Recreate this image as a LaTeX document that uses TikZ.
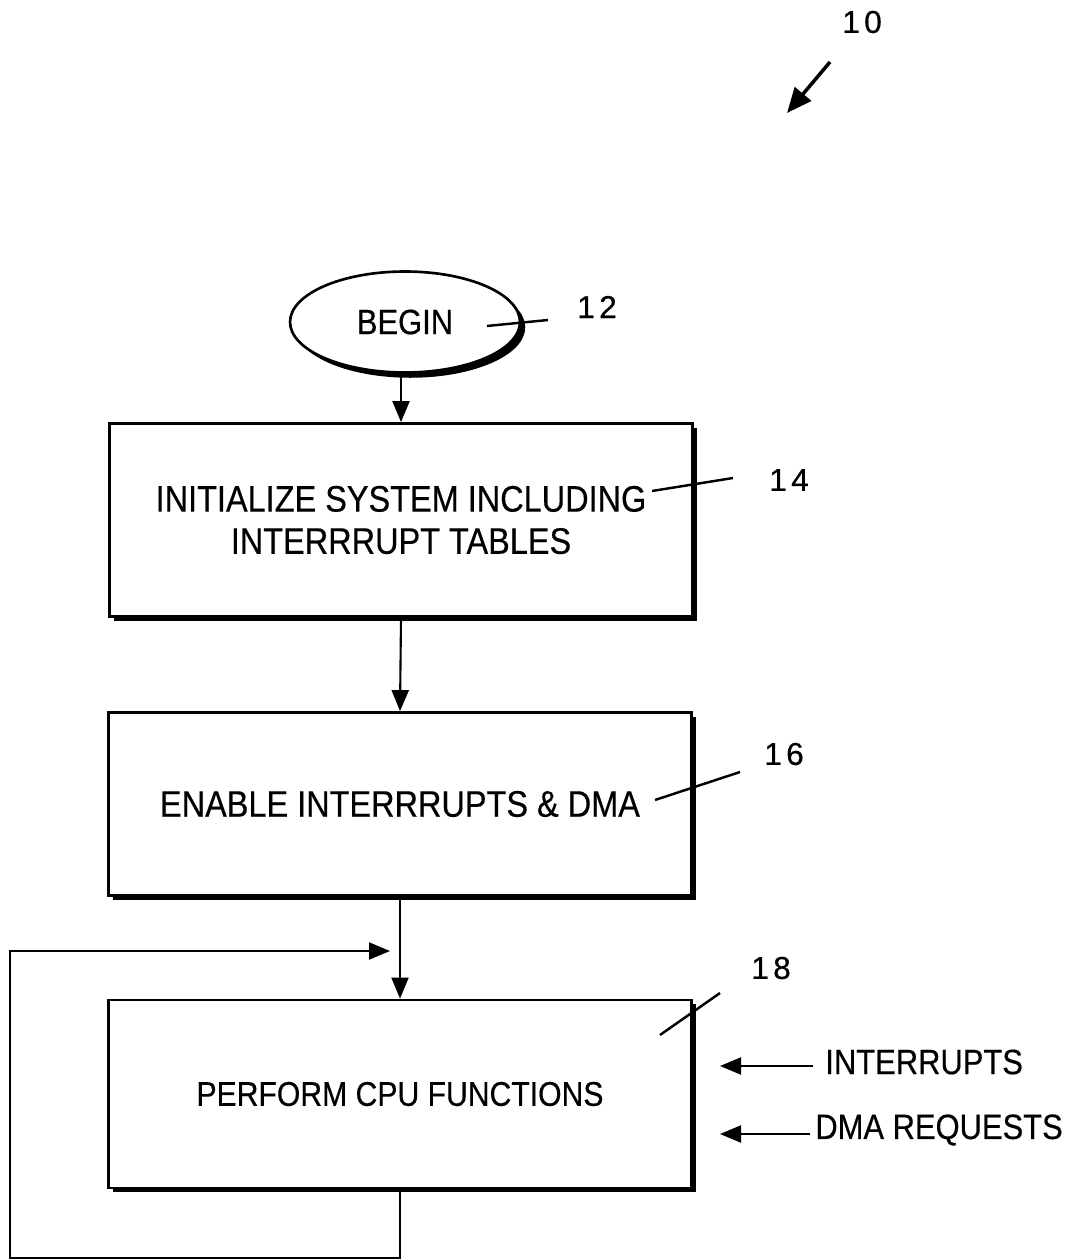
\documentclass[tikz,border=0pt]{standalone}
\usepackage{fontspec}
\setmainfont[FakeStretch=0.88,FakeBold=0.4]{Liberation Sans}
\newfontfamily\numfont[LetterSpace=14,FakeBold=0.5]{Liberation Sans}
\usetikzlibrary{arrows.meta,shadows,shapes.geometric}

\tikzset{
	stepbox/.style={draw,line width=1.6pt,fill=white,align=center,
		minimum width=11.66cm,
		drop shadow={shadow xshift=2.5pt,shadow yshift=-2.5pt,fill=black,opacity=1},
		font=\fontsize{21}{24}\selectfont},
	startoval/.style={ellipse,draw,line width=1.5pt,fill=white,
		minimum width=4.6cm,minimum height=2.02cm,inner sep=0pt,
		drop shadow={shadow xshift=3pt,shadow yshift=-3pt,fill=black,opacity=1},
		font=\fontsize{20}{24}\selectfont},
	flow/.style={line width=1.2pt,-{Triangle[length=0.42cm,width=0.34cm]}},
	leader/.style={line width=1.4pt},
	refnum/.style={font=\numfont\fontsize{18}{20}\selectfont},
	inlabel/.style={font=\fontsize{20}{22}\selectfont,anchor=west,inner sep=0pt}
}

\begin{document}
\begin{tikzpicture}[x=0.02cm,y=-0.02cm]
	\useasboundingbox (0,0) rectangle (1071,1260);

	% flow chart steps
	\node[startoval] (begin) at (405,322) {BEGIN};
	\node[stepbox,minimum height=3.86cm] (init) at (401,520)
		{INITIALIZE SYSTEM INCLUDING\\INTERRRUPT TABLES};
	\node[stepbox,minimum height=3.66cm] (enable) at (400,804)
		{ENABLE INTERRRUPTS \& DMA};
	\node[stepbox,minimum height=3.76cm,font=\fontsize{19.5}{24}\selectfont] (cpu) at (400,1094)
		{PERFORM CPU FUNCTIONS};

	% reference numerals
	\node[refnum] (r10) at (862,22) {10};
	\node[refnum] (r12) at (597,307) {12};
	\node[refnum] (r14) at (789,480) {14};
	\node[refnum] (r16) at (784,754) {16};
	\node[refnum] (r18) at (771,968) {18};

	\coordinate (t10) at (787,113);
	\coordinate (t12) at (487,326);
	\coordinate (t14) at (652,491);
	\coordinate (t16) at (655,800);
	\coordinate (t18) at (660,1035);

	\draw[line width=2pt,-{Triangle[length=0.5cm,width=0.42cm]}] (830,62) -- (t10);
	\draw[leader] (548,320) -- (t12);
	\draw[leader] (733,478) -- (t14);
	\draw[leader] (740,772) -- (t16);
	\draw[leader] (720,993) -- (t18);

	% main flow
	\draw[flow] (begin.south -| init.north) -- (init.north);
	\draw[flow] (init.south) -- (enable.north);
	\draw[flow] (enable.south) -- (cpu.north);

	% loop back
	\coordinate (loopin) at (390,951);
	\draw[flow] (cpu.south) -- (400,1258) -- (10,1258) -- (10,951) -- (loopin);

	% external inputs
	\node[inlabel] (intr) at (825,1062) {INTERRUPTS};
	\node[inlabel] (dmareq) at (815,1130) {DMA REQUESTS};
	\draw[flow] (intr.west) ++(-12,4) -- ++(-93,0);
	\draw[flow] (dmareq.west) ++(-5,4) -- ++(-90,0);
\end{tikzpicture}
\end{document}
